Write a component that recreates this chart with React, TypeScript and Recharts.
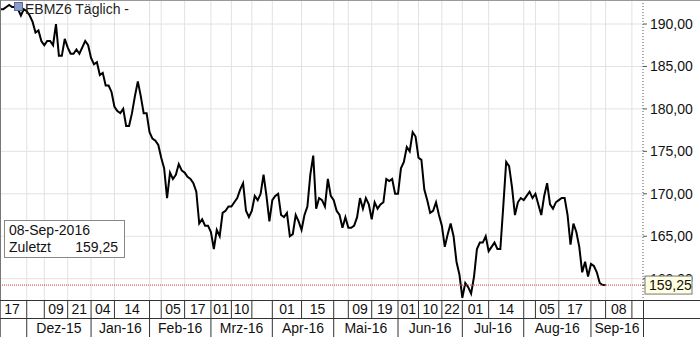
import React from 'react';
import { LineChart, Line, XAxis, YAxis, CartesianGrid, ReferenceLine } from 'recharts';

document.body.style.margin = '0';

// EBMZ6 daily closes, trading days 18-Nov-2015 .. 08-Sep-2016
// x position = trading-day index (17-Nov-2015 = 0)
const firstIndex = 1;
const closes = [
  191.75, 191.75, 192.0, 192.25, 192.0, 192.0, 191.75, 191.0, 191.75, 191.5,
  191.0, 190.25, 189.0, 189.25, 188.0, 187.5, 188.0, 188.0, 187.5, 190.0,
  186.25, 186.25, 188.25, 187.25, 186.5, 186.5, 187.0, 186.5, 187.25, 188.0,
  187.5, 186.0, 185.25, 185.5, 184.0, 184.25, 182.75, 182.75, 182.0, 180.25,
  179.75, 179.5, 180.0, 178.0, 178.0, 179.5, 181.5, 183.25, 181.5, 179.5,
  179.5, 177.25, 176.5, 176.25, 175.75, 174.25, 173.0, 169.5, 172.5, 171.75,
  172.25, 173.5, 172.75, 172.5, 172.0, 171.75, 171.25, 170.25, 166.5, 167.0,
  166.25, 166.25, 165.5, 163.5, 165.75, 165.0, 167.75, 168.0, 168.5, 168.5,
  169.0, 169.5, 170.5, 171.25, 168.0, 167.25, 168.0, 169.75, 169.25, 170.0,
  172.25, 169.75, 166.75, 169.25, 169.75, 170.0, 167.5, 167.25, 167.75, 165.0,
  165.25, 167.5, 166.75, 165.75, 167.5, 168.5, 172.25, 174.5, 168.25, 169.5,
  169.25, 168.5, 171.75, 169.75, 169.25, 168.0, 167.5, 166.0, 167.25, 166.0,
  166.0, 166.25, 167.25, 169.5, 168.25, 169.5, 168.75, 167.0, 169.0, 168.25,
  168.75, 169.0, 171.75, 171.5, 171.75, 170.0, 170.0, 173.0, 173.75, 175.5,
  175.0, 177.25, 176.75, 174.25, 174.0, 170.5, 169.25, 167.75, 168.0, 169.0,
  167.5, 166.25, 163.75, 165.25, 166.5, 165.0, 162.0, 160.5, 157.75, 159.5,
  159.0, 158.25, 160.25, 163.5, 164.25, 164.25, 165.0, 163.25, 163.75, 164.25,
  163.5, 163.5, 168.5, 173.75, 173.25, 170.75, 167.5, 169.0, 169.5, 169.25,
  169.75, 170.25, 169.5, 170.0, 168.75, 167.5, 169.75, 171.25, 168.75, 168.25,
  169.0, 169.25, 169.5, 169.5, 167.5, 164.0, 166.5, 165.5, 163.75, 160.75,
  162.0, 160.25, 161.75, 161.5, 160.75, 159.5, 159.25, 159.25,
];

const lastClose = 159.25;
const lastDate = '08-Sep-2016';

const dayTickIndex = [0, 16, 24, 32, 40, 56, 64, 73, 80, 94, 104, 120, 128, 137, 144, 152, 159, 168, 184, 192, 208];
const dayTickLabel = ['17', '09', '21', '04', '14', '05', '17', '01', '10', '01', '15', '09', '19', '01', '10', '22', '01', '14', '05', '17', '08'];
const monthStartIndex = [10, 32, 52, 73, 94, 115, 137, 159, 180, 203];
const monthLabel = ['Dez-15', 'Jan-16', 'Feb-16', 'Mrz-16', 'Apr-16', 'Mai-16', 'Jun-16', 'Jul-16', 'Aug-16', 'Sep-16'];
const extraGridIndex = [87, 217];
const yTicks = [160, 165, 170, 175, 180, 185, 190];

const xDomain = [0.85, 220.8];
const yDomain = [157.49, 192.83];

const FONT = '"Liberation Sans", Arial, sans-serif';

const data = closes.map((v, k) => ({ i: firstIndex + k, v }));

const separators = Array.from(new Set([...dayTickIndex, ...monthStartIndex, ...extraGridIndex]))
  .filter((s) => s > xDomain[0])
  .sort((a, b) => a - b);

// day labels sit centred in their cell (tick .. next separator)
const dayLabelAt: Record<string, string> = {};
dayTickIndex.forEach((t, k) => {
  const next = separators.find((s) => s > t) ?? xDomain[1];
  dayLabelAt[String((t + next) / 2)] = dayTickLabel[k];
});
const dayTicks = [...separators, ...Object.keys(dayLabelAt).map(Number)].sort((a, b) => a - b);

const monthLabelAt: Record<string, string> = {};
monthStartIndex.forEach((m, k) => {
  const next = monthStartIndex[k + 1] ?? xDomain[1];
  monthLabelAt[String((m + next) / 2)] = monthLabel[k];
});
const monthTicks = [...monthStartIndex, ...Object.keys(monthLabelAt).map(Number)].sort((a, b) => a - b);

// last-price tag goes last so it is painted over the 160,00 label
const yAxisTicks = [...yTicks, lastClose];

const fmt = (v: number) => v.toFixed(2).replace('.', ',');

const DayTick = (props: any) => {
  const { x, y, payload } = props;
  const label = dayLabelAt[String(payload.value)];
  if (label !== undefined) {
    return (
      <text x={x} y={y + 14} textAnchor="middle" fontSize={14} fontFamily={FONT} fill="#111">
        {label}
      </text>
    );
  }
  return <line x1={x} x2={x} y1={y} y2={y + 18} stroke="#333" />;
};

const MonthTick = (props: any) => {
  const { x, y, payload } = props;
  const label = monthLabelAt[String(payload.value)];
  if (label !== undefined) {
    return (
      <text x={x} y={y + 15} textAnchor="middle" fontSize={14} fontFamily={FONT} fill="#111">
        {label}
      </text>
    );
  }
  return <line x1={x} x2={x} y1={y} y2={y + 19} stroke="#333" />;
};

const PriceTick = (props: any) => {
  const { x, y, payload } = props;
  if (payload.value === lastClose) {
    return (
      <g>
        <rect x={x - 5} y={y - 9} width={47} height={18} fill="#ffffe1" stroke="#777" />
        <text x={x - 1} y={y + 5} fontSize={14} fontFamily={FONT} fill="#111">
          {fmt(lastClose)}
        </text>
      </g>
    );
  }
  return (
    <text x={x} y={y + 5} fontSize={14} fontFamily={FONT} fill="#111">
      {fmt(payload.value)}
    </text>
  );
};

export default function App() {
  return (
    <div style={{ position: 'relative', width: 700, height: 337, background: '#fff', fontFamily: FONT }}>
      <LineChart width={700} height={337} data={data} margin={{ top: 0, right: 0, bottom: 0, left: 0 }}>
        <CartesianGrid stroke="#e2e2e2" verticalValues={separators} horizontalValues={yTicks} />
        <XAxis
          dataKey="i"
          type="number"
          domain={xDomain}
          allowDataOverflow
          ticks={dayTicks}
          interval={0}
          height={18}
          tickSize={0}
          tickMargin={0}
          axisLine={false}
          tickLine={false}
          tick={<DayTick />}
        />
        <XAxis
          xAxisId="month"
          dataKey="i"
          type="number"
          domain={xDomain}
          allowDataOverflow
          ticks={monthTicks}
          interval={0}
          height={19}
          tickSize={0}
          tickMargin={0}
          axisLine={false}
          tickLine={false}
          tick={<MonthTick />}
        />
        <YAxis
          orientation="right"
          width={57}
          domain={yDomain}
          allowDataOverflow
          ticks={yAxisTicks}
          interval={0}
          axisLine={{ stroke: '#555', strokeDasharray: '1 2' }}
          tickLine={{ stroke: '#555' }}
          tickSize={4}
          tickMargin={3}
          tick={<PriceTick />}
        />
        <Line
          type="linear"
          dataKey="v"
          stroke="#000"
          strokeWidth={2}
          dot={false}
          isAnimationActive={false}
        />
        <ReferenceLine y={lastClose} stroke="#d83a3a" strokeDasharray="1 1" />
      </LineChart>

      {/* frame */}
      <div style={{ position: 'absolute', left: 0, top: 0, width: 700, height: 1, background: '#999' }} />
      <div style={{ position: 'absolute', left: 0, top: 0, width: 1, height: 337, background: '#777' }} />
      <div style={{ position: 'absolute', left: 0, top: 300, width: 700, height: 1, background: '#333' }} />
      <div style={{ position: 'absolute', left: 0, top: 318, width: 700, height: 1, background: '#333' }} />
      <div style={{ position: 'absolute', left: 643, top: 300, width: 1, height: 37, background: '#333' }} />

      {/* title */}
      <div style={{ position: 'absolute', left: 14, top: 2, width: 7, height: 7, background: '#8a9ccc', border: '1px solid #5a6a99' }} />
      <div style={{ position: 'absolute', left: 25, top: 1, fontSize: 14, color: '#222', whiteSpace: 'nowrap' }}>
        EBMZ6 Täglich -
      </div>

      {/* last value box */}
      <div
        style={{
          position: 'absolute',
          left: 4,
          top: 220,
          width: 119,
          height: 36,
          border: '1px solid #888',
          background: '#fff',
          fontSize: 14,
          color: '#111',
          lineHeight: '17px',
        }}
      >
        <div style={{ paddingLeft: 4, paddingTop: 1 }}>{lastDate}</div>
        <div style={{ display: 'flex', justifyContent: 'space-between', padding: '0 6px 0 4px' }}>
          <span>Zuletzt</span>
          <span>{fmt(lastClose)}</span>
        </div>
      </div>
    </div>
  );
}
